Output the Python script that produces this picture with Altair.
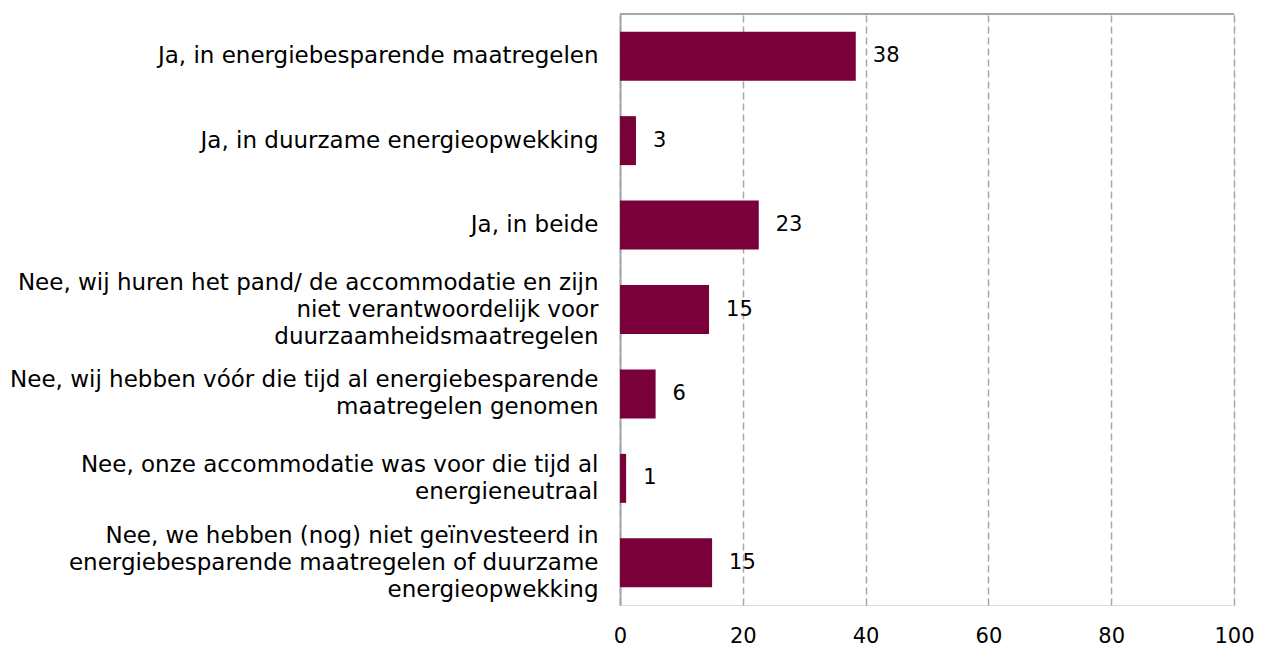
import altair as alt
import pandas as pd

categories = [
    "Ja, in energiebesparende maatregelen",
    "Ja, in duurzame energieopwekking",
    "Ja, in beide",
    "Nee, wij huren het pand/ de accommodatie en zijn|niet verantwoordelijk voor|duurzaamheidsmaatregelen",
    "Nee, wij hebben vóór die tijd al energiebesparende|maatregelen genomen",
    "Nee, onze accommodatie was voor die tijd al|energieneutraal",
    "Nee, we hebben (nog) niet geïnvesteerd in|energiebesparende maatregelen of duurzame|energieopwekking",
]
values = [38.4, 2.6, 22.6, 14.5, 5.8, 1.0, 15.0]
value_labels = ["38", "3", "23", "15", "6", "1", "15"]
x_ticks = [0, 20, 40, 60, 80, 100]

df = pd.DataFrame({"cat": categories, "val": values, "lbl": value_labels})

FONT = "DejaVu Sans"
FS_CAT = 23
FS_NUM = 21
LH = 27
BAR = "#7A0039"
GRID = "#A6A6A6"

n_lines = "length(split(datum.value, '|'))"

y_enc = alt.Y(
    "cat:N",
    sort=categories,
    title=None,
    scale=alt.Scale(paddingInner=0.42, paddingOuter=0.21),
    axis=alt.Axis(
        labelExpr="split(datum.label, '|')",
        labelFontSize=FS_CAT,
        labelFont=FONT,
        labelColor="#000000",
        labelLimit=0,
        labelPadding=22,
        labelLineHeight=LH,
        labelOffset={
            "condition": [
                {"test": f"{n_lines} == 3", "value": -LH},
                {"test": f"{n_lines} == 2", "value": -LH / 2},
            ],
            "value": 0,
        },
        ticks=False,
        domain=True,
        domainColor=GRID,
        domainWidth=2,
        grid=False,
    ),
)

x_enc = alt.X(
    "val:Q",
    title=None,
    scale=alt.Scale(domain=[0, 100], nice=False),
    axis=alt.Axis(
        values=x_ticks,
        labelFontSize=FS_NUM,
        labelFont=FONT,
        labelColor="#000000",
        labelPadding=20,
        labelFlush=False,
        ticks=False,
        domain=False,
        grid=True,
        gridColor=GRID,
        gridDash=[7, 4],
        gridWidth=1.5,
    ),
)

bars = alt.Chart(df).mark_bar(color=BAR).encode(x=x_enc, y=y_enc)

text = alt.Chart(df).mark_text(
    align="left", baseline="middle", dx=17, fontSize=FS_NUM, font=FONT, color="#000000"
).encode(x="val:Q", y=alt.Y("cat:N", sort=categories), text="lbl:N")

top_line = alt.Chart(df).mark_rule(color=GRID, strokeWidth=2).encode(
    x=alt.datum(0), x2=alt.datum(100), y=alt.value(0)
)

chart = (
    alt.layer(bars, text, top_line)
    .properties(
        width=614,
        height=591,
        autosize=alt.AutoSizeParams(type="none"),
        padding={"left": 612, "top": 6, "right": 20, "bottom": 41},
    )
    .configure_view(stroke=None)
    .configure(background="white")
)

chart.save("out.html", embed_options={"renderer": "svg", "actions": False})
